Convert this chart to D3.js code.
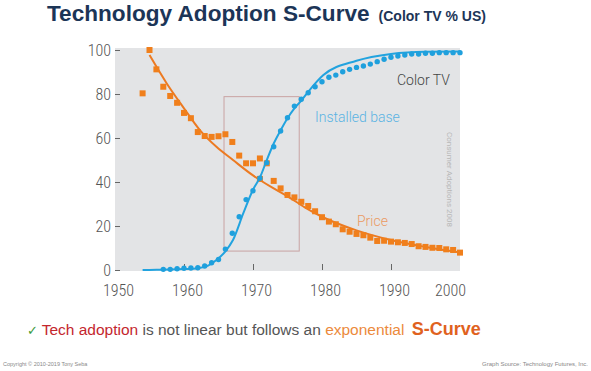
<!DOCTYPE html>
<html>
<head>
<meta charset="utf-8">
<script src="https://cdn.jsdelivr.net/npm/d3@7"></script>
<style>
  body { margin: 0; background: #fff; }
  svg { display: block; }
  .tick text { font-family: "Liberation Sans Narrow", "Roboto Condensed", Roboto, sans-serif; font-weight: 300; fill: #555; }
</style>
</head>
<body>
<div id="chart"></div>
<script>
// price of a color TV (indexed, squares)
var priceYears = [1954,1955,1956,1957,1958,1959,1960,1961,1962,1963,1964,1965,1966,1967,1968,1969,1970,1971,1971,
    1972,1973,1974,1975,1976,1977,1978,1979,1980,1981,1982,1983,1984,1985,1986,1987,1988,1989,1990,
    1991,1992,1993,1994,1995,1996,1997,1998,1999,2000];
var priceValues = [80.3,100,91.2,83.3,79.1,76,71.4,69,62.7,60.9,60.5,60.8,61.7,58.2,52,48.5,48.5,50.7,41.4,
    48.5,40.5,37.1,34.1,33,31,29.1,26.7,24,22,20.8,18.5,17.4,16.4,15.8,14.7,13.2,13.3,12.9,
    12.6,12.3,11.8,10.8,10.5,10.1,10,9.4,9.1,7.9];

// installed base % of US households (dots)
var baseYears = [1957,1958,1959,1960,1961,1962,1963,1964,1965,1966,1967,1968,1969,1970,1971,1972,1973,1974,1975,1976,
    1977,1978,1979,1980,1981,1982,1983,1984,1985,1986,1987,1988,1989,1990,1991,1992,1993,1994,1995,1996,
    1997,1998,1999,2000];
var baseValues = [0.3,0.3,0.6,0.8,0.9,1.0,1.8,3.3,4.8,9.5,16.7,24.2,32,36,41.7,48.8,56,63.2,69.2,74.5,
    77.6,80.6,83.3,85.6,87.6,88.6,90.1,91.2,92.1,92.7,93.6,94.7,95.8,96.7,97.3,97.7,98.2,98.2,98.5,98.5,
    98.8,98.8,98.8,98.8];

// fitted curves
var baseFitYears = [1954,1956,1958,1960,1962,1963.5,1964.7,1966,1967.1,1968.6,1970,1971,1972,1973,1974,1975,1976,1977,1978,1980.2,1985,1990,1995,2000];
var baseFitValues = [0,0.1,0.2,0.4,0.8,2,4.5,8.5,13.6,25.8,36.5,42,50,57.5,63.5,69,73.5,77,81,88.6,95.1,98.2,99.2,99.3];
var priceFitYears = [1955,1957.5,1960,1962.3,1964.7,1967.1,1970,1972.5,1975,1977.5,1980,1985,1990,1995,2000];
var priceFitValues = [97.7,84.8,73.5,63.6,56,50,43,38,33.5,28.5,24.2,18,13.6,10.5,8];

// highlighted window
var boxYears = [1965.8, 1976.7];
var boxValues = [8.6, 78.8];

var xTicks = [1950,1960,1970,1980,1990,2000];
var yTicks = [0,20,40,60,80,100];

var width = 591, height = 371;
var svg = d3.select("#chart").append("svg")
    .attr("width", width)
    .attr("height", height);

var x = d3.scaleLinear().domain([1950, 2000]).range([115, 460]);
var y = d3.scaleLinear().domain([0, 100]).range([270, 50]);

// title
var title = svg.append("text")
    .attr("x", 47).attr("y", 21)
    .style("font-family", "Liberation Sans, Arial, sans-serif")
    .style("font-weight", "bold")
    .style("fill", "#1c3557");
title.append("tspan").style("font-size", "22.6px").text("Technology Adoption S-Curve");
title.append("tspan").attr("dx", 9).style("font-size", "14px").text("(Color TV % US)");

// plot background
svg.append("rect")
    .attr("x", x(1950)).attr("y", y(100) - 2)
    .attr("width", x(2000) - x(1950)).attr("height", y(0) - y(100) + 3)
    .attr("fill", "#e3e4e6");

// axes
var yAxis = svg.append("g")
    .attr("transform", "translate(" + x(1950) + ",0)")
    .call(d3.axisLeft(y).tickValues(yTicks).tickSizeInner(-5).tickSizeOuter(0).tickPadding(4));
yAxis.select(".domain").remove();
yAxis.selectAll(".tick line").attr("stroke", "#666");
yAxis.selectAll(".tick text").style("font-size", "16px");

var xAxis = svg.append("g")
    .attr("transform", "translate(0," + y(0) + ")")
    .call(d3.axisBottom(x).tickValues(xTicks).tickFormat(d3.format("d")).tickSizeInner(-6).tickSizeOuter(0).tickPadding(15));
xAxis.select(".domain").remove();
xAxis.selectAll(".tick line").attr("stroke", "#666")
    .attr("opacity", function (d) { return (d == 1950 || d == 2000) ? 0 : 1; });
xAxis.selectAll(".tick text").style("font-size", "16px")
    .attr("dx", function (d) { return d == 2000 ? -10 : 3; });

// highlight box
svg.append("rect")
    .attr("x", x(boxYears[0])).attr("y", y(boxValues[1]))
    .attr("width", x(boxYears[1]) - x(boxYears[0]))
    .attr("height", y(boxValues[0]) - y(boxValues[1]))
    .attr("fill", "none")
    .attr("stroke", "#c9a3a3")
    .attr("stroke-width", 1);

var line = d3.line()
    .x(function (d) { return x(d[0]); })
    .y(function (d) { return y(d[1]); })
    .curve(d3.curveMonotoneX);

// price curve + squares
svg.append("path")
    .datum(d3.zip(priceFitYears, priceFitValues))
    .attr("d", line)
    .attr("fill", "none")
    .attr("stroke", "#ec7a22")
    .attr("stroke-width", 2);

svg.selectAll(".price")
    .data(d3.zip(priceYears, priceValues))
    .enter().append("rect")
    .attr("class", "price")
    .attr("x", function (d) { return x(d[0]) - 3; })
    .attr("y", function (d) { return y(d[1]) - 3; })
    .attr("width", 6).attr("height", 6)
    .attr("fill", "#f07f1c");

// installed base curve + dots
svg.append("path")
    .datum(d3.zip(baseFitYears, baseFitValues))
    .attr("d", line)
    .attr("fill", "none")
    .attr("stroke", "#22a3df")
    .attr("stroke-width", 2);

svg.selectAll(".base")
    .data(d3.zip(baseYears, baseValues))
    .enter().append("circle")
    .attr("class", "base")
    .attr("cx", function (d) { return x(d[0]); })
    .attr("cy", function (d) { return y(d[1]); })
    .attr("r", 2.7)
    .attr("fill", "#1fa0dd");

// labels in the plot
var lblFont = "Roboto, 'Liberation Sans Narrow', sans-serif";
svg.append("text").attr("x", 397).attr("y", 85)
    .style("font-family", lblFont).style("font-weight", 300).style("font-size", "14px")
    .style("fill", "#444").text("Color TV");
svg.append("text").attr("x", 315).attr("y", 122)
    .style("font-family", lblFont).style("font-weight", 300).style("font-size", "14px")
    .style("fill", "#5ab3e3").text("Installed base");
svg.append("text").attr("x", 357).attr("y", 226)
    .style("font-family", lblFont).style("font-weight", 300).style("font-size", "14px")
    .style("fill", "#eb9a63").text("Price");
svg.append("text")
    .attr("transform", "translate(447,132) rotate(90)")
    .style("font-family", lblFont).style("font-size", "8px")
    .style("fill", "#b8b8b8").text("Consumer Adoptions 2008");

// bottom message
var msg = svg.append("text")
    .attr("x", 27).attr("y", 335)
    .style("font-family", "Liberation Sans, Arial, sans-serif")
    .style("font-size", "15.5px");
msg.append("tspan").style("fill", "#3a9a3a").style("font-size", "13px").text("\u2713 ");
msg.append("tspan").style("fill", "#c4262e").text("Tech adoption");
msg.append("tspan").style("fill", "#555").text(" is not linear but follows an ");
msg.append("tspan").style("fill", "#ec8a3c").text("exponential ");
msg.append("tspan").attr("dx", 3).style("fill", "#e0621e").style("font-weight", "bold")
    .style("font-size", "18px").text("S-Curve");

// footers
svg.append("text").attr("x", 3).attr("y", 366)
    .style("font-family", "Liberation Sans, Arial, sans-serif").style("font-size", "5.5px")
    .style("fill", "#888").text("Copyright \u00a9 2010-2019 Tony Seba");
svg.append("text").attr("x", 588).attr("y", 366).attr("text-anchor", "end")
    .style("font-family", "Liberation Sans, Arial, sans-serif").style("font-size", "6px")
    .style("fill", "#888").text("Graph Source: Technology Futures, Inc.");
</script>
</body>
</html>
